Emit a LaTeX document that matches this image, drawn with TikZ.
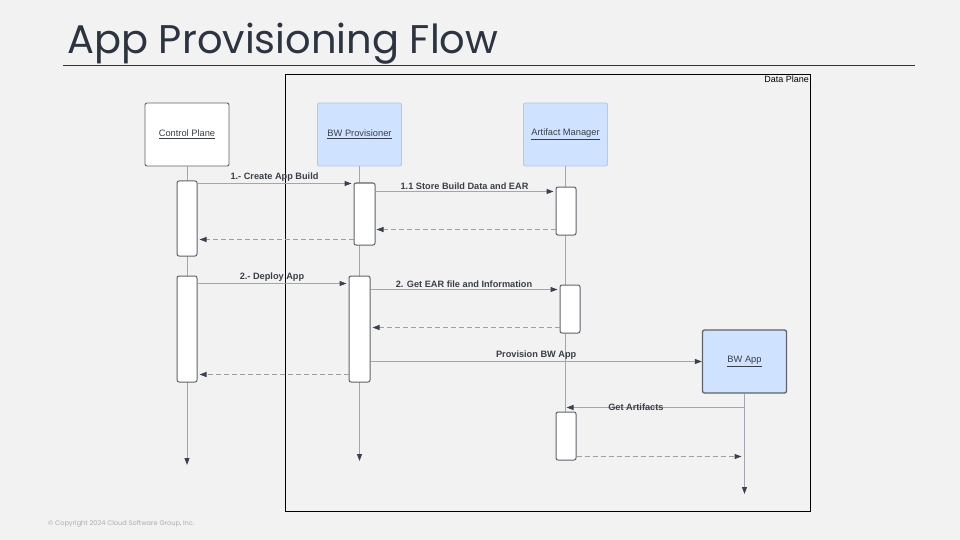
\documentclass[tikz,border=0pt]{standalone}
\usepackage{fontspec}
\setmainfont{Liberation Sans}
\newfontfamily\titlefont{Poppins}
\usetikzlibrary{arrows.meta,calc}
\definecolor{bg}{HTML}{F2F2F2}
\definecolor{ink}{HTML}{2B3440}
\definecolor{lifeg}{HTML}{A3A6AD}
\definecolor{boxb}{HTML}{5F636B}
\definecolor{blfill}{HTML}{CFE2FF}
\definecolor{bldraw}{HTML}{A9CBF5}
\definecolor{tipc}{HTML}{3A4150}
\definecolor{txt}{HTML}{3A3F47}
\tikzset{
  part/.style={draw=boxb, fill=white, rounded corners=2pt, minimum width=84pt, minimum height=63pt, line width=0.9pt, font=\fontsize{9.3}{10}\selectfont, text=txt, inner sep=0pt},
  bpart/.style={part, fill=blfill, draw=bldraw},
  actbox/.style={draw=boxb, fill=white, rounded corners=2pt, minimum width=20pt, line width=1pt, inner sep=0pt},
  life/.style={draw=lifeg, line width=1pt},
  lifearr/.style={life, -{Triangle[length=7pt,width=5pt,color=tipc]}},
  msg/.style={draw=lifeg, line width=1pt, -{Triangle[length=7pt,width=5pt,color=tipc]}},
  ret/.style={msg, draw=gray!75, dash pattern=on 5pt off 3pt},
  lbl/.style={font=\bfseries\fontsize{9.2}{10}\selectfont, text=txt, inner sep=1.2pt}
}
\begin{document}
\begin{tikzpicture}[x=1pt,y=-1pt]
\fill[bg] (0,0) rectangle (960,540);
\useasboundingbox (0,0) rectangle (960,540);
% title
\node[anchor=base west, font=\titlefont\fontsize{40}{44}\selectfont, text=ink, inner sep=0pt] (title) at (67,54) {App Provisioning Flow};
\coordinate (rl) at (63,65);
\coordinate (rr) at (915,65);
\draw[ink, line width=0.8pt] (rl) -- (rr);
% data plane
\node[draw=black, line width=1.2pt, minimum width=525pt, minimum height=437pt, anchor=north west, inner sep=0pt] (dp) at (285,74) {};
\node[anchor=north east, font=\fontsize{9}{10}\selectfont, text=black, inner sep=2pt] (dpl) at (dp.north east) {Data Plane};
% participants
\node[part] (cp) at (187,134.5) {\underline{Control Plane}};
\node[bpart] (bwp) at (359.5,134.5) {\underline{BW Provisioner}};
\node[bpart] (am) at (565.5,134.5) {\underline{Artifact Manager}};
% lifeline ends
\coordinate (cpe) at (187,465);
\coordinate (bwe) at (359.5,461);
\coordinate (bae) at (745,494);
% lifelines
\draw[lifearr] (cp.south) -- (cpe);
\draw[lifearr] (bwp.south) -- (bwe);
\coordinate (ame) at (566,412);
\draw[life] (am.south) -- (am.south |- ame);
% BW App
\node[part, fill=blfill, draw=boxb, line width=1.3pt] (bwapp) at (744.5,361.5) {\underline{BW App}};
\draw[lifearr] (bwapp.south) -- (bwapp.south |- bae);
% activations
\node[actbox, minimum height=75pt] (cpa1) at (187,218.5) {};
\node[actbox, minimum height=106pt] (cpa2) at (187,329) {};
\node[actbox, minimum width=21pt, minimum height=62pt] (bwa1) at (364.5,214) {};
\node[actbox, minimum width=21pt, minimum height=106pt] (bwa2) at (359.5,329) {};
\node[actbox, minimum height=48pt] (ama1) at (566,211) {};
\node[actbox, minimum height=48pt] (ama2) at (570,309) {};
\node[actbox, minimum height=48pt] (ama3) at (566,436) {};
% message levels
\coordinate (m1) at ($(cpa1.north east)+(0,3)$);
\coordinate (m2) at ($(bwa1.north east)+(0,9)$);
\coordinate (m3) at ($(ama1.south west)+(0,-6)$);
\coordinate (m4) at ($(bwa1.south west)+(0,-6)$);
\coordinate (m5) at ($(cpa2.north east)+(0,8)$);
\coordinate (m6) at ($(bwa2.north east)+(0,14)$);
\coordinate (m7) at ($(ama2.south west)+(0,-6)$);
\coordinate (m8) at ($(bwa2.north east)+(0,86)$);
\coordinate (m9) at ($(bwa2.south west)+(0,-8)$);
\coordinate (ga) at ($(am.south |- ama3.north)+(1,-4)$);
\coordinate (m11) at ($(ama3.south east)+(0,-4)$);
% messages
\draw[msg] (m1) -- node[lbl, above] (l1) {1.- Create App Build} ($(m1 -| bwa1.west)+(-2,0)$);
\draw[msg] (m2) -- node[lbl, above] (l2) {1.1 Store Build Data and EAR} ($(m2 -| ama1.west)+(-2,0)$);
\draw[ret] (m3) -- ($(m3 -| bwa1.east)+(1,0)$);
\draw[ret] (m4) -- ($(m4 -| cpa1.east)+(2,0)$);
\draw[msg] (m5) -- node[lbl, above] (l5) {2.- Deploy App} ($(m5 -| bwa2.west)+(-2,0)$);
\draw[msg] (m6) -- node[lbl, above] (l6) {2. Get EAR file and Information} ($(m6 -| ama2.west)+(-2,0)$);
\draw[ret] (m7) -- ($(m7 -| bwa2.east)+(2,0)$);
\draw[msg] (m8) -- node[lbl, above] (l8) {Provision BW App} (m8 -| bwapp.west);
\draw[ret] (m9) -- ($(m9 -| cpa2.east)+(2,0)$);
\draw[msg] (bwapp.south) |- (ga);
\node[lbl] (l10) at ($(ga)!0.39!(ga -| bwapp.south)$) {Get Artifacts};
\draw[ret] (m11) -- ($(m11 -| bwapp.south)+(-3,0)$);
% copyright
\node[anchor=west, font=\titlefont\fontsize{6.6}{7}\selectfont, text=gray!65, inner sep=0pt] (copy) at (48,524) {© Copyright 2024 Cloud Software Group, Inc.};
\end{tikzpicture}
\end{document}
